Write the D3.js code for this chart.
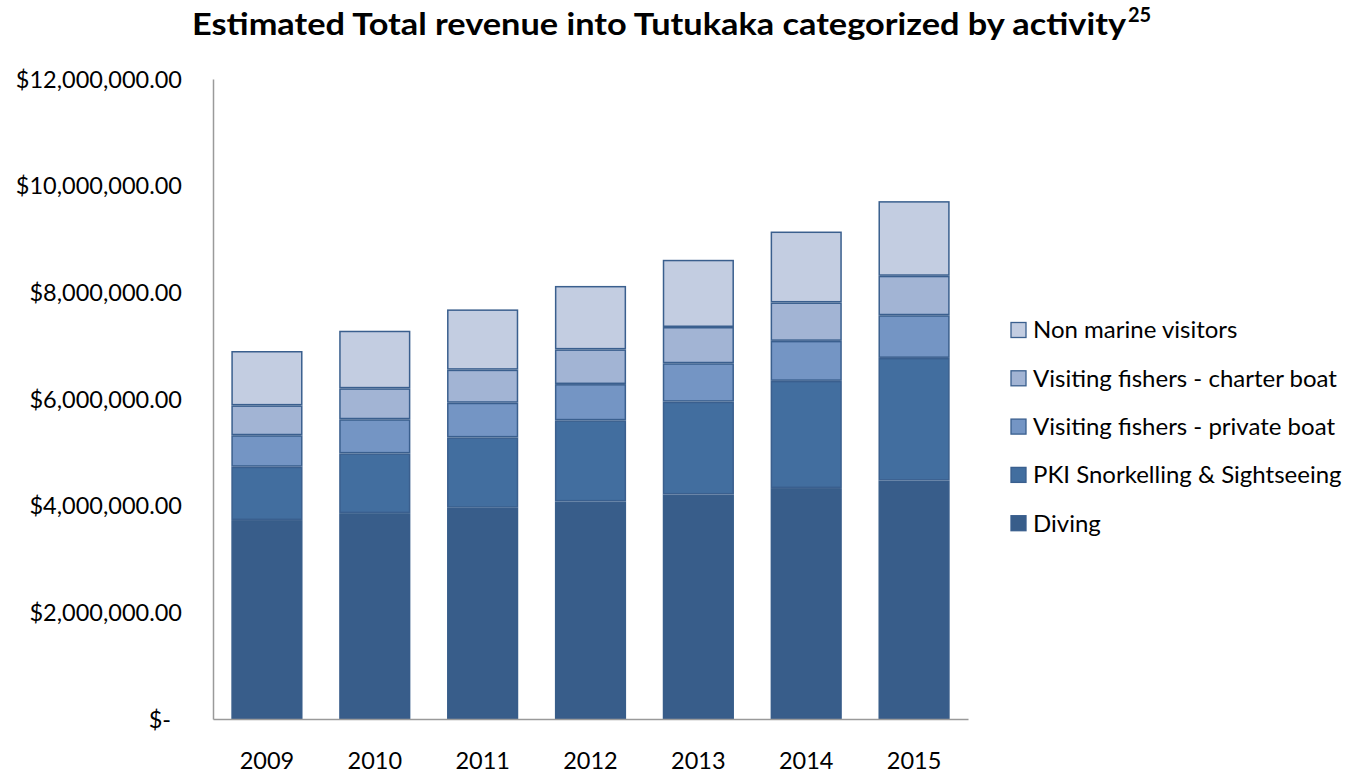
<!DOCTYPE html>
<html><head><meta charset="utf-8">
<script src="https://cdn.jsdelivr.net/npm/d3@7"></script>
<style>body{margin:0;background:#fff;} svg{display:block;font-family:Lato,"Open Sans",sans-serif;}</style>
</head><body>
<svg id="c" width="1363" height="774"></svg>
<script>
const years = ["2009","2010","2011","2012","2013","2014","2015"];
const diving = [3730000,3860000,3960000,4080000,4210000,4330000,4470000];
const pkiSnorkelling = [1000000,1120000,1320000,1520000,1740000,2010000,2300000];
const fishersPrivate = [590000,640000,650000,680000,720000,750000,800000];
const fishersCharter = [560000,580000,620000,650000,680000,720000,740000];
const nonMarine = [1020000,1080000,1130000,1190000,1260000,1330000,1400000];
const seriesNames = ["Diving","PKI Snorkelling & Sightseeing","Visiting fishers - private boat","Visiting fishers - charter boat","Non marine visitors"];
const seriesValues = [diving, pkiSnorkelling, fishersPrivate, fishersCharter, nonMarine];
const colors = ["#385D8A","#426E9F","#7495C4","#A2B4D4","#C3CDE1"];
const yTicks = [0,2000000,4000000,6000000,8000000,10000000,12000000];

const svg = d3.select("#c");
const mLeft = 213, mRight = 968, mTop = 79, mBottom = 719;

const rows = years.map((y,i)=>{const r={year:y}; seriesNames.forEach((n,k)=>r[n]=seriesValues[k][i]); return r;});
const stack = d3.stack().keys(seriesNames)(rows);

const x = d3.scaleBand().domain(years).range([mLeft,mRight]).paddingInner(0.34).paddingOuter(0.17);
const y = d3.scaleLinear().domain([0,12000000]).range([mBottom,mTop]);

// bars
stack.forEach((layer,k)=>{
  svg.append("g").selectAll("rect").data(layer).join("rect")
    .attr("x", d=>x(d.data.year)+0.75)
    .attr("width", x.bandwidth()-1.5)
    .attr("y", d=>y(d[1])+0.75)
    .attr("height", d=>Math.max(0,y(d[0])-y(d[1])-1.5))
    .attr("fill", colors[k])
    .attr("stroke", k===0 ? "#385D8A" : "#3A5F8E")
    .attr("stroke-width", 1.5);
});

// axes
const fmt = d3.format("$,.2f");
const yAxis = svg.append("g").attr("transform",`translate(${mLeft},0)`)
  .call(d3.axisLeft(y).tickValues(yTicks).tickSize(0).tickPadding(31)
    .tickFormat(v=> v===0 ? "$-" : fmt(v)));
yAxis.select(".domain").attr("stroke","#9A9A9A").attr("stroke-width",1.5);
yAxis.selectAll("text").attr("font-size",23.5).attr("fill","#000").attr("font-family","Lato, sans-serif")
  .attr("dx", v=> v===0 ? -11 : 0).attr("dy","0.35em");

const xAxis = svg.append("g").attr("transform",`translate(0,${mBottom})`)
  .call(d3.axisBottom(x).tickSize(0).tickPadding(33));
xAxis.select(".domain").attr("stroke","#9A9A9A").attr("stroke-width",1.5);
xAxis.selectAll("text").attr("font-size",23.5).attr("fill","#000").attr("font-family","Lato, sans-serif");

// title
svg.append("text").attr("x",192).attr("y",35).attr("text-anchor","start")
  .attr("font-weight","bold").attr("font-size",30).attr("fill","#000")
  .attr("textLength",934).attr("lengthAdjust","spacingAndGlyphs")
  .text("Estimated Total revenue into Tutukaka categorized by activity");
svg.append("text").attr("x",1128).attr("y",22).attr("font-weight","bold")
  .attr("font-size",20).attr("fill","#000").text("25");

// legend
const legendOrder = [4,3,2,1,0];
const lg = svg.append("g");
legendOrder.forEach((k,i)=>{
  const cy = 330 + i*48.3;
  lg.append("rect").attr("x",1011).attr("y",cy-7.5).attr("width",15).attr("height",15)
    .attr("fill",colors[k]).attr("stroke","#3A5F8E").attr("stroke-width",1.3);
  lg.append("text").attr("x",1033).attr("y",cy).attr("dy","0.35em").attr("font-size",24)
    .attr("fill","#000").text(seriesNames[k]);
});
</script>
</body></html>
